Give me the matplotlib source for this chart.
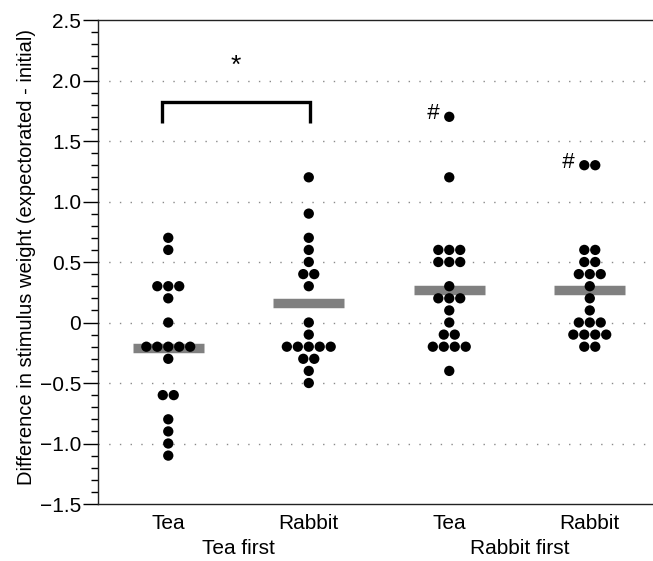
"""Dot plot of stimulus weight differences by stimulus and presentation order."""

from collections import Counter

import matplotlib
matplotlib.use("Agg")
import matplotlib.pyplot as plt
import matplotlib.transforms as mtransforms
import numpy as np

plt.rcParams["font.family"] = ["Liberation Sans", "DejaVu Sans"]

# data
stimuli = ["Tea", "Rabbit", "Tea", "Rabbit"]
orders = ["Tea first", "Rabbit first"]
tea_tea_first = [0.7, 0.6, 0.3, 0.3, 0.3, 0.2, 0.0, -0.2, -0.2, -0.2, -0.2, -0.2,
                 -0.3, -0.6, -0.6, -0.8, -0.9, -1.0, -1.1]
rabbit_tea_first = [1.2, 0.9, 0.7, 0.6, 0.5, 0.4, 0.4, 0.3, 0.0, -0.1, -0.2, -0.2,
                    -0.2, -0.2, -0.2, -0.3, -0.3, -0.4, -0.5]
tea_rabbit_first = [1.7, 1.2, 0.6, 0.6, 0.6, 0.5, 0.5, 0.5, 0.3, 0.2, 0.2, 0.2, 0.1,
                    0.0, -0.1, -0.1, -0.2, -0.2, -0.2, -0.2, -0.4]
rabbit_rabbit_first = [1.3, 1.3, 0.6, 0.6, 0.5, 0.5, 0.4, 0.4, 0.4, 0.3, 0.2, 0.1,
                       0.0, 0.0, 0.0, -0.1, -0.1, -0.1, -0.1, -0.2, -0.2]
group_means = [-0.21, 0.16, 0.27, 0.27]
y_ticks = [-1.5, -1.0, -0.5, 0.0, 0.5, 1.0, 1.5, 2.0, 2.5]
y_tick_labels = ["\u22121.5", "\u22121.0", "\u22120.5", "0", "0.5", "1.0", "1.5", "2.0", "2.5"]

groups = [tea_tea_first, rabbit_tea_first, tea_rabbit_first, rabbit_rabbit_first]
positions = np.arange(1, len(groups) + 1)

DOT_STEP = 0.078  # horizontal gap between tied dots, in x units


def spread(values, center):
    """Lay tied values side by side around the group center."""
    xs, ys = [], []
    for v, n in Counter(round(v, 2) for v in values).items():
        offs = (np.arange(n) - (n - 1) / 2) * DOT_STEP
        xs.extend(center + offs)
        ys.extend([v] * n)
    return xs, ys


fig = plt.figure(figsize=(6.53, 5.61), dpi=100)
ax = fig.add_axes([0.1501, 0.1016, 0.8499, 0.8627])

# dotted reference lines
for y in y_ticks[1:-1]:
    ax.axhline(y, color="#8a8a8a", lw=1, linestyle=(0, (1, 6.7)), zorder=0)

for pos, vals, m in zip(positions, groups, group_means):
    ax.hlines(m, pos - 0.253, pos + 0.253, color="#808080", lw=6.8,
              capstyle="butt", zorder=1)
    xs, ys = spread(vals, pos)
    ax.scatter(xs, ys, s=55, color="black", edgecolors="none", zorder=2)

# significance bracket between the two tea-first groups
ax.plot([0.955, 0.955, 2.01, 2.01], [1.65, 1.825, 1.825, 1.65], color="black",
        lw=2.4, solid_capstyle="butt", solid_joinstyle="miter")
ax.text(1.48, 2.12, "*", ha="center", va="center", fontsize=19)
ax.text(2.88, 1.73, "#", ha="center", va="center", fontsize=16, fontstyle="italic")
ax.text(3.84, 1.32, "#", ha="center", va="center", fontsize=16, fontstyle="italic")

ax.set_xlim(0.5, 4.45)
ax.set_ylim(-1.5, 2.5)
ax.set_yticks(y_ticks)
ax.set_yticklabels(y_tick_labels, fontsize=15)
ax.set_yticks(np.arange(-1.5, 2.51, 0.1), minor=True)
ax.tick_params(axis="y", which="major", length=11, width=1, direction="out", pad=1)
ax.tick_params(axis="y", which="minor", length=5, width=1, direction="out")
ax.set_xticks(positions)
ax.set_xticklabels(stimuli, fontsize=15)
ax.tick_params(axis="x", length=0, pad=7)
ax.set_ylabel("Difference in stimulus weight (expectorated - initial)", fontsize=14.5)
ax.yaxis.set_label_coords(-0.112, 0.51)

trans = mtransforms.blended_transform_factory(ax.transData, ax.transAxes)
for x, label in zip([1.5, 3.5], orders):
    ax.text(x, -0.092, label, transform=trans, ha="center", va="center", fontsize=15)

ax.spines["right"].set_visible(False)
for side in ["left", "top", "bottom"]:
    ax.spines[side].set_color("#222222")
    ax.spines[side].set_linewidth(1)

fig.savefig("out.png", dpi=100)
